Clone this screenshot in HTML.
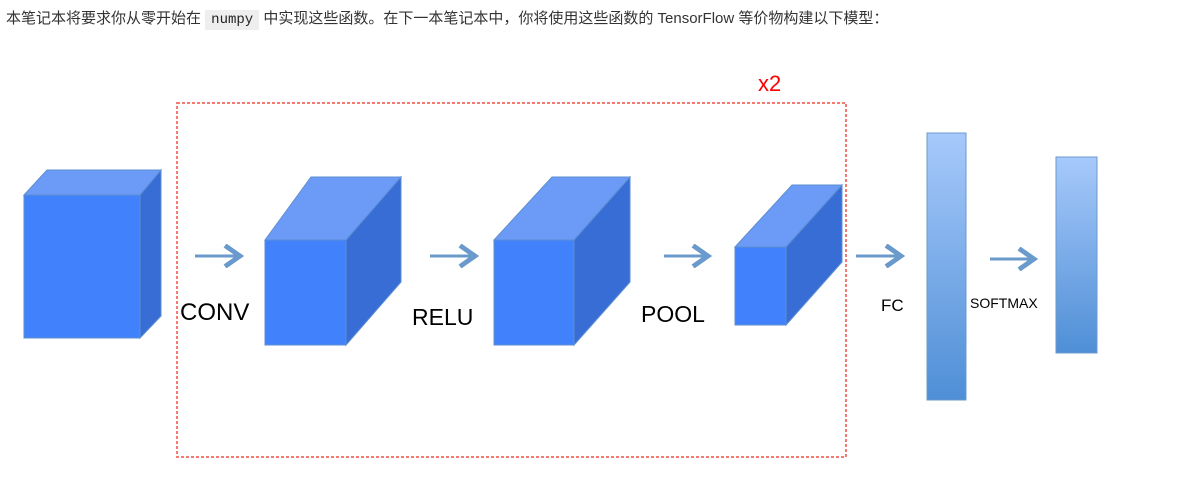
<!DOCTYPE html>
<html><head><meta charset="utf-8"><style>
body{margin:0;width:1183px;height:480px;background:#fff;overflow:hidden;font-family:"Liberation Sans","Noto Sans CJK SC",sans-serif;}
.t{position:absolute;left:6px;top:7px;font-size:15px;color:#333;white-space:nowrap;}
code{font-family:"Liberation Mono",monospace;background:#eee;padding:2px 6px;font-size:14px;color:#222;}
svg{position:absolute;left:0;top:0}
</style></head><body>
<div class="t">本笔记本将要求你从零开始在 <code>numpy</code> 中实现这些函数。在下一本笔记本中，你将使用这些函数的 TensorFlow 等价物构建以下模型：</div>
<svg width="1183" height="480" font-family="Liberation Sans, sans-serif">
<defs>
<linearGradient id="g" x1="0" y1="0" x2="0" y2="1"><stop offset="0" stop-color="#a7c9fb"/><stop offset="1" stop-color="#4f8fd6"/></linearGradient>
<marker id="a" markerWidth="8" markerHeight="8" refX="6" refY="4" orient="auto"><path d="M1,0.5 L6,4 L1,7.5" fill="none" stroke="#6a9acb" stroke-width="1.6"/></marker>
</defs>
<g stroke="#5d8fd0" stroke-width="1">
<polygon points="24,195 47,170 161,170 140,195" fill="#6b9bf7"/><polygon points="140,195 161,170 161,316 140,338" fill="#386dd6"/><rect x="24" y="195" width="116" height="143" fill="#4281fc"/>
<polygon points="265,240 311,177 401,177 346,240" fill="#6b9bf7"/><polygon points="346,240 401,177 401,282 346,345" fill="#386dd6"/><rect x="265" y="240" width="81" height="105" fill="#4281fc"/>
<polygon points="494,240 552,177 630,177 574,240" fill="#6b9bf7"/><polygon points="574,240 630,177 630,282 574,345" fill="#386dd6"/><rect x="494" y="240" width="80" height="105" fill="#4281fc"/>
<polygon points="735,247 792,185 842,185 786,247" fill="#6b9bf7"/><polygon points="786,247 842,185 842,262 786,325" fill="#386dd6"/><rect x="735" y="247" width="51" height="78" fill="#4281fc"/>
<rect x="927" y="133" width="39" height="267" fill="url(#g)" stroke="#6a9acb"/>
<rect x="1056" y="157" width="41" height="196" fill="url(#g)" stroke="#6a9acb"/>
</g>
<rect x="177" y="103" width="669" height="354" fill="none" stroke="#f47a72" stroke-width="2" stroke-dasharray="3,2"/>
<g stroke="#6a9acb" stroke-width="3" marker-end="url(#a)">
<line x1="195" y1="256" x2="240" y2="256"/><line x1="430" y1="256" x2="475" y2="256"/><line x1="664" y1="256" x2="708" y2="256"/><line x1="856" y1="256" x2="901" y2="256"/><line x1="990" y1="259" x2="1034" y2="259"/>
</g>
<text x="758" y="91" font-size="22" fill="#f00">x2</text>
<text x="180" y="320" font-size="24" fill="#000">CONV</text>
<text x="412" y="325" font-size="23" fill="#000">RELU</text>
<text x="641" y="322" font-size="23" fill="#000">POOL</text>
<text x="881" y="311" font-size="17" fill="#000">FC</text>
<text x="970" y="308" font-size="14" fill="#000">SOFTMAX</text>
</svg>
</body></html>
